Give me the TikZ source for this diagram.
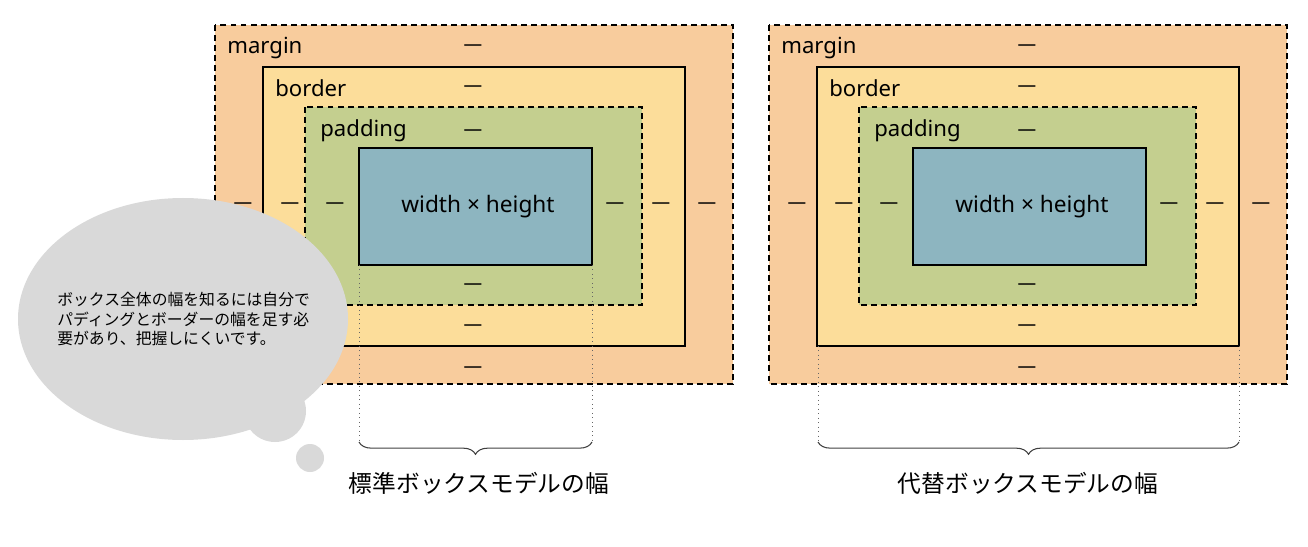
\documentclass[tikz,border=0pt]{standalone}
\usepackage{fontspec}
\setmainfont{Noto Sans CJK JP}
\newfontfamily\latinfont{Noto Sans}
\usetikzlibrary{decorations.pathreplacing}

\definecolor{marginfill}{HTML}{F8CC9D}
\definecolor{borderfill}{HTML}{FCDD9A}
\definecolor{paddingfill}{HTML}{C4CF8F}
\definecolor{contentfill}{HTML}{8DB5C0}
\definecolor{bubblefill}{HTML}{D9D9D9}

\tikzset{
  boxdash/.style={line width=1.1pt, dash pattern=on 3.4pt off 2.3pt},
  boxline/.style={line width=1.1pt},
  layerlabel/.style={font=\latinfont\fontsize{12.6}{14}\selectfont, anchor=west, inner sep=0pt},
  valuedash/.style={font=\latinfont\bfseries\fontsize{10.6}{12}\selectfont, inner sep=0pt, yshift=-0.06cm},
  guide/.style={dotted, gray!80!black, line width=0.55pt},
  widthbrace/.style={decorate, decoration={brace, mirror, amplitude=7pt}, line width=0.6pt, black!75},
  widthlabel/.style={font=\fontsize{13.5}{15}\selectfont, inner sep=0pt}
}

\begin{document}
\begin{tikzpicture}[x=0.02cm, y=-0.02cm]
  \useasboundingbox (0,0) rectangle (1308,547);

  % Both box models: standard (left) and alternative (right)
  \foreach \dx/\n in {0/std, 554/alt} {
    \begin{scope}[xshift=\dx*0.02cm]
      % Layers, outside in
      \fill[marginfill] (215,25) rectangle (733,384);
      \draw[boxdash] (215,25) rectangle (733,384);
      \fill[borderfill] (263,67) rectangle (685,346);
      \draw[boxline] (263,67) rectangle (685,346);
      \fill[paddingfill] (305,107) rectangle (642,305);
      \draw[boxdash] (305,107) rectangle (642,305);
      \draw[boxline, fill=contentfill] (359,148) rectangle (592,265);

      % Layer names
      \node[layerlabel] (\n-margin) at (227,48) {margin};
      \node[layerlabel] (\n-border) at (275,88) {border};
      \node[layerlabel] (\n-padding) at (320,131) {padding};
      \node[font=\latinfont\fontsize{12.9}{14}\selectfont] (\n-content) at (478,207) {width × height};

      % Values
      \node[valuedash] (\n-mt) at (473,45) {—};
      \node[valuedash] (\n-bt) at (473,86) {—};
      \node[valuedash] (\n-pt) at (473,130) {—};
      \node[valuedash] (\n-pb) at (473,284) {—};
      \node[valuedash] (\n-bb) at (473,325) {—};
      \node[valuedash] (\n-mb) at (473,367) {—};
      \node[valuedash] (\n-ml) at (243,203) {—};
      \node[valuedash] (\n-bl) at (290,203) {—};
      \node[valuedash] (\n-pl) at (335,203) {—};
      \node[valuedash] (\n-pr) at (615,203) {—};
      \node[valuedash] (\n-br) at (661,203) {—};
      \node[valuedash] (\n-mr) at (707,203) {—};
    \end{scope}
  }

  % Width guides: content box (left), border box (right)
  \coordinate (stdA) at (359,265);
  \coordinate (stdB) at (592,265);
  \coordinate (stdC) at (359,442);
  \coordinate (stdD) at (592,442);
  \coordinate (altA) at (818,346);
  \coordinate (altB) at (1239,346);
  \coordinate (altC) at (818,442);
  \coordinate (altD) at (1239,442);
  \draw[guide] (stdA) -- (stdC);
  \draw[guide] (stdB) -- (stdD);
  \draw[guide] (altA) -- (altC);
  \draw[guide] (altB) -- (altD);
  \draw[widthbrace] (stdC) -- (stdD);
  \draw[widthbrace] (altC) -- (altD);

  \node[widthlabel] (stdwidth) at (479,483) {標準ボックスモデルの幅};
  \node[widthlabel] (altwidth) at (1028,483) {代替ボックスモデルの幅};

  % Thought bubble (drawn last, on top)
  \fill[bubblefill] (183,319) ellipse [x radius=165, y radius=121];
  \fill[bubblefill] (275,411) circle (31);
  \fill[bubblefill] (310,458) circle (14);
  \node[anchor=west, align=left, inner sep=0pt, font=\fontsize{9}{11.3}\selectfont] (note) at (57,319)
    {ボックス全体の幅を知るには自分で\\パディングとボーダーの幅を足す必\\要があり、把握しにくいです。};
\end{tikzpicture}
\end{document}
